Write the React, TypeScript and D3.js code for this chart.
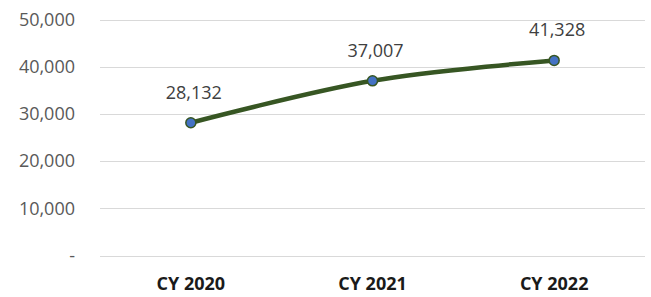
import React from 'react';
import * as d3 from 'd3';

const categories = ['CY 2020', 'CY 2021', 'CY 2022'];
const values = [28132, 37007, 41328];
const yTicks = [0, 10000, 20000, 30000, 40000, 50000];

const width = 651;
const height = 297;
const margin = { top: 19.5, right: 6, bottom: 41.5, left: 100 };

export default function App() {
  const x = d3.scaleBand<string>()
    .domain(categories)
    .range([margin.left, width - margin.right])
    .padding(0);

  const y = d3.scaleLinear()
    .domain([0, 50000])
    .range([height - margin.bottom, margin.top]);

  const fmt = d3.format(',');
  const cx = (c: string) => (x(c) || 0) + x.bandwidth() / 2;

  const line = d3.line<number>()
    .x((_, i) => cx(categories[i]))
    .y(d => y(d))
    .curve(d3.curveCatmullRom.alpha(0.5));

  const font = '"Open Sans", sans-serif';

  return (
    <svg width={width} height={height} style={{ position: 'absolute', left: 0, top: 0, background: '#fff' }}>
      {/* gridlines */}
      {yTicks.map(t => (
        <line key={t} x1={margin.left} x2={width - margin.right} y1={Math.round(y(t)) + 0.5} y2={Math.round(y(t)) + 0.5}
          stroke="#d9d9d9" strokeWidth={1} />
      ))}
      {/* y labels */}
      {yTicks.map(t => (
        <text key={'l' + t} x={75} y={y(t)} dy="0.35em" textAnchor="end" fontFamily={font} fontSize={18} fill="#595959">
          {t === 0 ? '-' : fmt(t)}
        </text>
      ))}
      {/* x labels */}
      {categories.map(c => (
        <text key={c} x={cx(c)} y={290} textAnchor="middle" fontFamily={font} fontSize={18} fontWeight="bold" fill="#1a1a1a">
          {c}
        </text>
      ))}
      <path d={line(values) || ''} fill="none" stroke="#375623" strokeWidth={4.5} strokeLinecap="round" />
      {values.map((v, i) => (
        <circle key={i} cx={cx(categories[i])} cy={y(v)} r={5} fill="#4472c4" stroke="#375623" strokeWidth={1.5} />
      ))}
      {values.map((v, i) => (
        <text key={'d' + i} x={cx(categories[i]) + 3} y={y(v) - 24} textAnchor="middle" fontFamily={font} fontSize={18} fill="#404040">
          {fmt(v)}
        </text>
      ))}
    </svg>
  );
}
